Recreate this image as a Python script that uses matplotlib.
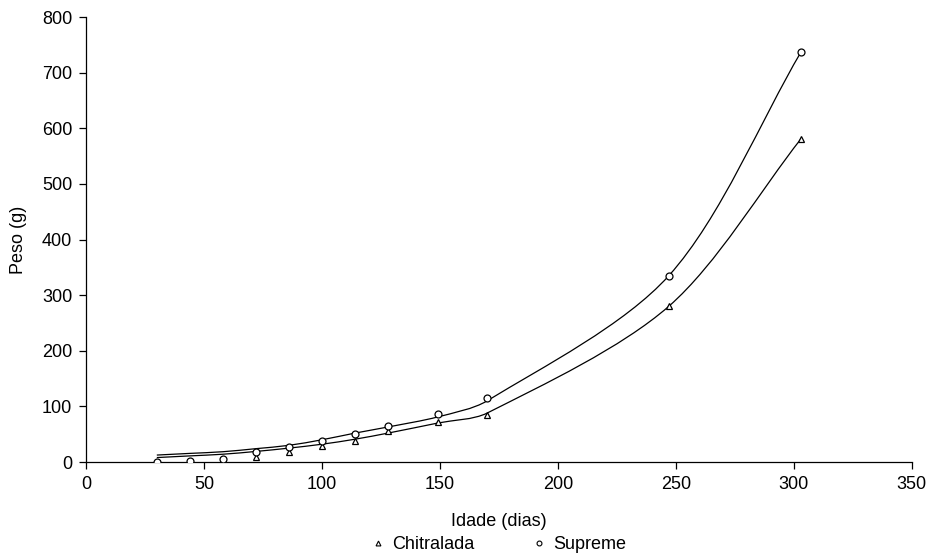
import numpy as np
import matplotlib
matplotlib.use("Agg")
import matplotlib.pyplot as plt
from matplotlib.path import Path
from matplotlib.patches import PathPatch
from matplotlib.lines import Line2D

plt.rcParams["font.family"] = ["Liberation Sans", "DejaVu Sans"]

# idade (dias) das amostragens
IDADE = [30, 44, 58, 72, 86, 100, 114, 128, 149, 170, 247, 303]

# peso medio observado (g)
CHITRALADA_OBS = [0, 1, 3, 9, 18, 28, 38, 55, 72, 85, 280, 581]
SUPREME_OBS    = [0, 2, 6, 18, 27, 38, 50, 65, 86, 115, 335, 737]

# peso estimado pelo modelo (g)
CHITRALADA_EST = [8, 11, 14, 19, 25, 32, 41, 52, 70, 88, 280, 581]
SUPREME_EST    = [12.5, 15.5, 18.5, 24, 30, 40, 52, 63, 81, 110, 335, 737]

FS = 13


def curva_suave(ax, x, y, k=0.3, **kw):
    """Linha suavizada por Bezier (tangente de Catmull-Rom, braco ~ corda)."""
    pts = ax.transData.transform(np.column_stack([x, y]))
    n = len(pts)
    verts = [pts[0]]
    codes = [Path.MOVETO]

    def unit(v):
        d = np.hypot(*v)
        return v / d if d else v

    for i in range(n - 1):
        p0 = pts[max(i - 1, 0)]
        p1 = pts[i]
        p2 = pts[i + 1]
        p3 = pts[min(i + 2, n - 1)]
        corda = np.hypot(*(p2 - p1))
        c1 = p1 + unit(p2 - p0) * corda * k
        c2 = p2 - unit(p3 - p1) * corda * k
        verts += [c1, c2, p2]
        codes += [Path.CURVE4] * 3
    verts = ax.transData.inverted().transform(np.array(verts))
    ax.add_patch(PathPatch(Path(verts, codes), fill=False, **kw))


fig = plt.figure(figsize=(9.30, 5.59), dpi=100)
ax = fig.add_axes([0.0925, 0.1735, 0.888, 0.796])
ax.set_xlim(0, 350)
ax.set_ylim(0, 800)

curva_suave(ax, IDADE, CHITRALADA_EST, edgecolor="black", lw=0.9)
curva_suave(ax, IDADE, SUPREME_EST, edgecolor="black", lw=0.9)

ax.plot(IDADE, CHITRALADA_OBS, ls="none", marker="^", ms=5, mfc="white",
        mec="black", mew=0.9, zorder=3)
ax.plot(IDADE, SUPREME_OBS, ls="none", marker="o", ms=5, mfc="white",
        mec="black", mew=0.9, zorder=3)

ax.set_xticks(range(0, 351, 50))
ax.set_yticks(range(0, 801, 100))
ax.spines[["top", "right"]].set_visible(False)
ax.spines[["left", "bottom"]].set_linewidth(0.9)
ax.tick_params(direction="out", length=5, width=0.9, labelsize=FS, pad=5)
ax.set_xlabel("Idade (dias)", fontsize=FS)
ax.set_ylabel("Peso (g)", fontsize=FS)
ax.xaxis.set_label_coords(0.5, -0.114)
ax.yaxis.set_label_coords(-0.072, 0.5)

handles = [
    Line2D([], [], ls="none", marker="^", ms=3.5, mfc="white", mec="black", mew=0.8),
    Line2D([], [], ls="none", marker="o", ms=3.5, mfc="white", mec="black", mew=0.8),
]
fig.legend(handles, ["Chitralada", "Supreme"], loc="lower center",
           bbox_to_anchor=(0.537, -0.012), ncol=2, frameon=False, fontsize=FS,
           handlelength=0.6, handletextpad=0.5, columnspacing=3.3,
           borderpad=0.2)

fig.savefig("out.png", dpi=100, facecolor="white")
